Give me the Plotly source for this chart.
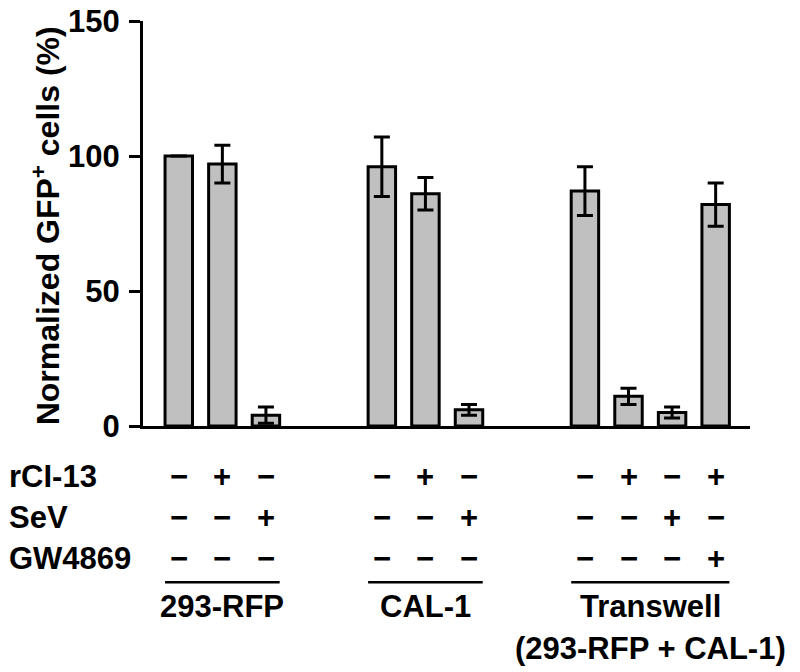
import plotly.graph_objects as go

# ── Data ────────────────────────────────────────────────────────────────
groups = ["293-RFP", "CAL-1", "Transwell"]
group_sizes = [3, 3, 4]
values = [100, 97, 4, 96, 86, 6, 87, 11, 5, 82]
errors = [0, 7, 3, 11, 6, 2, 9, 3, 2, 8]

row_labels = ["rCI-13", "SeV", "GW4869"]
rci13 = ["−", "+", "−", "−", "+", "−", "−", "+", "−", "+"]
sev = ["−", "−", "+", "−", "−", "+", "−", "−", "+", "−"]
gw4869 = ["−", "−", "−", "−", "−", "−", "−", "−", "−", "+"]
group_titles = ["293-RFP", "CAL-1", "Transwell"]
group_subtitles = ["", "", "(293-RFP + CAL-1)"]

# ── Layout constants ────────────────────────────────────────────────────
GROUP_STEP = 4.66     # slot distance between first bars of neighbouring groups
BAR_W = 0.63
FONT = "Liberation Sans, Arial, sans-serif"
FS = 31

# bar positions: consecutive slots, groups separated by a wider gap
xs = []
for g, n in enumerate(group_sizes):
    xs += [g * GROUP_STEP + i for i in range(n)]

fig = go.Figure()
fig.add_trace(go.Bar(
    x=xs, y=values, width=BAR_W,
    marker=dict(color="#c0c0c0", line=dict(color="black", width=3)),
    error_y=dict(type="data", array=errors, color="black", thickness=3, width=8),
    showlegend=False,
))


def py(pix):
    # pixel row -> paper y (plot area: y=0 at 425.7px, 405 px tall)
    return (425.7 - pix) / 405


def bold(size=FS):
    return dict(size=size, family=FONT, color="black", weight="bold")


annotations = []
# condition table
row_y = [py(476), py(517), py(558)]
for lab, yy, signs in zip(row_labels, row_y, [rci13, sev, gw4869]):
    annotations.append(dict(text=lab, xref="paper", yref="paper", x=(7 - 143) / 607, y=yy,
                            xanchor="left", yanchor="middle", showarrow=False, font=bold()))
    for x, s in zip(xs, signs):
        annotations.append(dict(text=s, xref="x", yref="paper", x=x, y=yy,
                                xanchor="center", yanchor="middle", showarrow=False,
                                font=bold()))

shapes = []
start = 0
for n, title, sub in zip(group_sizes, group_titles, group_subtitles):
    gx = xs[start:start + n]
    start += n
    shapes.append(dict(type="line", xref="x", yref="paper",
                       x0=gx[0] - BAR_W / 2, x1=gx[-1] + BAR_W / 2,
                       y0=py(582), y1=py(582), line=dict(color="black", width=2.5)))
    cx = (gx[0] + gx[-1]) / 2
    annotations.append(dict(text=title, xref="x", yref="paper", x=cx, y=py(606),
                            xanchor="center", yanchor="middle", showarrow=False,
                            font=bold()))
    if sub:
        annotations.append(dict(text=sub, xref="x", yref="paper", x=cx, y=py(648),
                                xanchor="center", yanchor="middle", showarrow=False,
                                font=bold()))

# y-axis title
annotations.append(dict(text="Normalized GFP<sup>+</sup> cells (%)", textangle=-90,
                        xref="paper", yref="paper", x=(46 - 143) / 607, y=py(226),
                        xanchor="center", yanchor="middle", showarrow=False,
                        font=bold(32)))

fig.update_layout(
    width=800, height=672,
    paper_bgcolor="white", plot_bgcolor="white",
    margin=dict(l=143, r=50, t=21, b=246, autoexpand=False),
    font=dict(family=FONT, color="black"),
    annotations=annotations,
    shapes=shapes,
)
fig.update_xaxes(range=[-0.821, 13.108], showline=True, linecolor="black", linewidth=3,
                 showticklabels=False, ticks="", showgrid=False, zeroline=False,
                 automargin=False)
fig.update_yaxes(range=[0, 150], tickvals=[0, 50, 100, 150], showline=True,
                 linecolor="black", linewidth=3, ticks="outside", ticklen=11,
                 tickwidth=3, tickcolor="black", showgrid=False, zeroline=False,
                 tickfont=bold(), ticklabelstandoff=3, automargin=False)

# page body has a default 8px margin; drop it so the figure fills the window
fig.write_html("out.html", config={"displayModeBar": False},
               post_script="document.body.style.margin='0';")
